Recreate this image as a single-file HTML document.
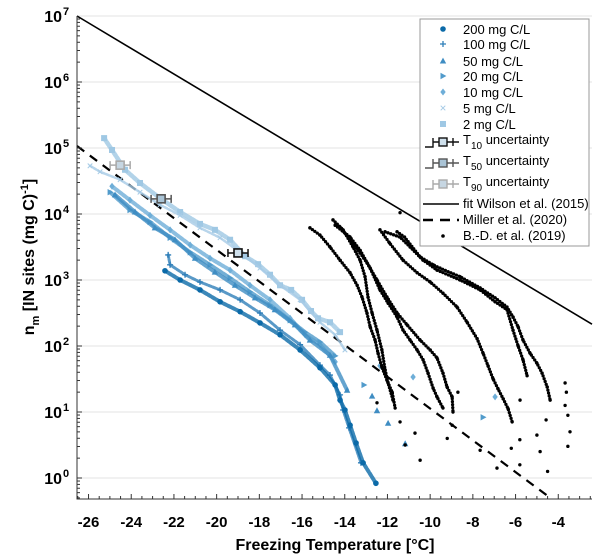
<!DOCTYPE html>
<html><head><meta charset="utf-8"><style>
html,body{margin:0;padding:0;background:#fff}
svg{display:block;font-family:"Liberation Sans",Arial,sans-serif}
</style></head><body>
<svg id="chart" width="600" height="558" viewBox="0 0 600 558" xmlns="http://www.w3.org/2000/svg">
<g id="grid"></g>
<g id="lines"></g>
<g id="data"></g>
<g id="axes"></g>
<text x="335" y="550" text-anchor="middle" font-size="16" font-weight="bold">Freezing Temperature [°C]</text>
<text transform="translate(34,257) rotate(-90)" text-anchor="middle" font-size="16" font-weight="bold">n<tspan font-size="11" dy="5">m</tspan><tspan dy="-5"> [IN sites (mg C)</tspan><tspan font-size="11" dy="-6">-1</tspan><tspan dy="6">]</tspan></text>
<g id="legend"></g>
</svg>
<script>
// ---- data ----
const xTicks = [-26,-24,-22,-20,-18,-16,-14,-12,-10,-8,-6,-4];
const yTicks = [0,1,2,3,4,5,6,7];
const seriesNames = ["200 mg C/L","100 mg C/L","50 mg C/L","20 mg C/L","10 mg C/L","5 mg C/L","2 mg C/L"];
// values: [temperature °C, log10 n_m]
const s200 = [[-22.42,3.14],[-21.71,3.00],[-20.78,2.85],[-19.84,2.67],[-18.90,2.52],[-17.97,2.35],[-17.03,2.17],[-16.09,1.94],[-15.16,1.67],[-14.45,1.41],[-14.22,1.18],[-13.99,1.03],[-13.75,0.80],[-13.47,0.53],[-13.14,0.23],[-12.54,-0.08]];
const s100 = [[-22.27,3.38],[-22.18,3.23],[-21.48,3.08],[-20.78,2.97],[-19.84,2.85],[-18.90,2.70],[-17.97,2.50],[-17.03,2.24],[-16.09,2.02],[-15.16,1.71],[-14.69,1.56],[-14.22,1.26],[-14.08,1.03],[-13.80,0.76],[-13.24,0.23]];
const s50 = [[-24.76,4.29],[-23.82,4.03],[-22.89,3.79],[-21.95,3.61],[-21.01,3.33],[-20.08,3.12],[-19.14,2.92],[-18.20,2.73],[-17.27,2.55],[-16.33,2.32],[-15.63,2.09],[-14.69,1.86],[-13.89,1.33]];
const s50out = [[-12.72,1.24],[-12.49,1.02],[-11.97,0.83],[-11.17,0.52]];
const s20 = [[-24.99,4.33],[-24.06,4.06],[-23.12,3.88],[-22.18,3.64],[-21.24,3.42],[-20.31,3.23],[-19.37,3.03],[-18.44,2.82],[-17.50,2.62],[-16.56,2.39],[-15.86,2.21],[-15.16,2.06],[-14.45,1.85]];
const s20out = [[-13.10,1.41],[-7.52,0.92]];
const s10 = [[-24.90,4.42],[-24.06,4.21],[-23.12,3.98],[-22.18,3.76],[-21.24,3.53],[-20.31,3.33],[-19.37,3.15],[-18.44,2.92],[-17.50,2.70],[-16.56,2.42],[-15.86,2.17],[-15.16,2.02],[-14.45,1.76]];
const s10out = [[-12.35,1.70],[-10.80,1.53],[-6.96,1.23]];
const s5 = [[-25.93,4.73],[-25.46,4.64],[-24.52,4.52],[-23.59,4.33],[-22.65,4.14],[-21.71,3.98],[-20.78,3.79],[-19.84,3.64],[-18.90,3.42],[-17.97,3.18],[-17.03,2.92],[-16.09,2.70],[-15.16,2.36],[-14.45,2.17],[-13.99,1.94]];
const s2 = [[-25.27,5.15],[-24.90,4.97],[-24.29,4.67],[-23.59,4.47],[-22.65,4.24],[-21.71,4.03],[-20.78,3.85],[-20.08,3.76],[-19.37,3.61],[-18.67,3.36],[-18.06,3.24],[-17.50,3.08],[-17.03,2.92],[-16.51,2.85],[-16.00,2.70],[-15.58,2.53],[-15.25,2.42],[-14.69,2.36],[-14.22,2.21]];
const bdA = [[-15.63,3.79],[-15.16,3.68],[-14.69,3.50],[-14.22,3.30],[-13.75,3.11],[-13.42,2.92],[-13.19,2.74],[-12.96,2.50],[-12.81,2.29],[-12.58,2.09],[-12.44,1.89],[-12.26,1.68],[-12.02,1.48],[-11.78,1.30],[-11.64,1.06]];
const bdB = [[-14.55,3.91],[-14.08,3.76],[-13.61,3.50],[-13.28,3.30],[-13.05,3.05],[-12.91,2.74],[-12.72,2.50],[-12.49,2.24],[-12.26,1.94],[-12.11,1.64],[-11.97,1.44],[-11.74,1.18]];
const bdC = [[-14.45,3.83],[-13.75,3.65],[-13.28,3.45],[-12.81,3.18],[-12.35,2.85],[-11.97,2.65],[-11.55,2.44],[-11.27,2.24],[-10.94,2.09],[-10.61,1.94],[-10.33,1.79],[-10.10,1.59],[-9.86,1.36],[-9.68,1.23],[-9.40,1.06]];
const bdD = [[-14.22,3.80],[-13.61,3.56],[-12.96,3.26],[-12.49,3.00],[-12.02,2.74],[-11.55,2.50],[-11.08,2.32],[-10.47,2.09],[-10.00,1.94],[-9.68,1.82],[-9.40,1.59],[-9.21,1.38],[-8.97,1.23],[-8.93,1.00]];
const bdE = [[-11.55,3.73],[-11.20,3.65],[-10.47,3.35],[-9.86,3.23],[-9.54,3.18],[-8.60,3.05],[-7.66,2.88],[-6.96,2.73],[-6.40,2.59],[-6.12,2.44],[-5.88,2.29],[-5.65,2.09],[-5.32,1.89],[-5.00,1.74],[-4.76,1.59],[-4.52,1.38],[-4.38,1.18]];
const bdF = [[-12.11,3.73],[-11.41,3.65],[-10.94,3.50],[-10.33,3.30],[-9.68,3.15],[-8.60,3.00],[-7.66,2.85],[-6.96,2.67],[-6.40,2.55],[-6.12,2.24],[-5.88,2.00],[-5.65,1.79],[-5.46,1.55]];
const bdG = [[-12.35,3.76],[-11.90,3.56],[-11.27,3.30],[-10.61,3.11],[-10.00,2.97],[-9.40,2.80],[-8.74,2.59],[-8.27,2.36],[-7.80,2.11],[-7.52,1.89],[-7.29,1.70],[-7.05,1.50],[-6.82,1.35],[-6.58,1.20],[-6.35,1.05],[-6.16,0.85]];
const bdScatter = [[-11.41,4.02],[-12.49,1.14],[-11.41,0.85],[-11.17,0.50],[-10.47,0.27],[-10.71,0.68],[-5.79,1.18],[-4.57,0.88],[-3.68,1.44],[-3.62,1.30],[-3.68,1.10],[-3.55,0.95],[-3.45,0.70],[-3.55,0.48],[-5.00,0.65],[-4.85,0.40],[-4.50,0.10],[-5.80,0.58],[-5.80,0.20],[-6.87,0.15],[-7.66,0.42],[-8.97,0.80],[-9.20,0.60],[-6.20,0.45],[-8.70,1.30]];
const uncT = [-19.0,-22.6,-24.52];
const uncLog = [3.41,4.23,4.74];
const uncErr = [0.47,0.47,0.47];
const wilsonStart = [-26.54,7.0]; const wilsonSlope = -0.1936;
const millerStart = [-26.54,5.03]; const millerSlope = -0.2405;

// ---- scales ----
const X0=77,X1=592,Y0=16,Y1=499;
const xmin=-26.54,xmax=-2.42,ymin=-0.318,ymax=7;
const sx=t=>X0+(t-xmin)/(xmax-xmin)*(X1-X0);
const sy=l=>Y0+(ymax-l)/(ymax-ymin)*(Y1-Y0);
const NS="http://www.w3.org/2000/svg";
function mk(tag,attrs,parent){const e=document.createElementNS(NS,tag);for(const k in attrs)e.setAttribute(k,attrs[k]);parent.appendChild(e);return e;}
const grid=document.getElementById('grid'),lines=document.getElementById('lines'),dataG=document.getElementById('data'),axes=document.getElementById('axes'),legend=document.getElementById('legend');

yTicks.forEach(v=>{const g=mk('line',{x1:X0,x2:X1,y1:sy(v),y2:sy(v),stroke:'#e3e3e3','stroke-width':1},grid);

});

const ax=mk('path',{d:`M${X0},${Y0}V${Y1}H${X1}`,fill:'none',stroke:'#333','stroke-width':1},axes);


for(let t=-26.5;t<=-2.5;t+=0.5){const major=xTicks.includes(t);mk('line',{x1:sx(t),x2:sx(t),y1:Y1,y2:Y1-(major?5:3),stroke:'#333'},axes);}
xTicks.forEach(t=>{const e=mk('text',{x:sx(t),y:527,'text-anchor':'middle','font-size':15,'font-weight':'bold'},axes);e.textContent=t;

});
for(let d=-1;d<=6;d++){for(let m=1;m<=9;m++){const l=d+Math.log10(m);if(l<ymin||l>ymax)continue;mk('line',{x1:X0,x2:X0+(m===1?5:3),y1:sy(l),y2:sy(l),stroke:'#333'},axes);}}
yTicks.forEach(v=>{const e=mk('text',{x:62,y:sy(v)+6,'text-anchor':'end','font-size':16,'font-weight':'bold'},axes);e.textContent='10';


const s=mk('text',{x:63,y:sy(v)-1,'font-size':11,'font-weight':'bold'},axes);s.textContent=v;});

const wl=mk('line',{x1:sx(wilsonStart[0]),y1:sy(wilsonStart[1]),x2:sx(xmax),y2:sy(wilsonStart[1]+wilsonSlope*(xmax-wilsonStart[0])),stroke:'#000','stroke-width':1.6},lines);


const tEnd=millerStart[0]+(ymin-millerStart[1])/millerSlope;
const ml=mk('line',{x1:sx(millerStart[0]),y1:sy(millerStart[1]),x2:sx(tEnd),y2:sy(ymin),stroke:'#000','stroke-width':2.2,'stroke-dasharray':'9 7'},lines);



function marker(type,cx,cy,col,parent){
 if(type==='circle')return mk('circle',{cx,cy,r:2.8,fill:col},parent);
 if(type==='plus')return mk('path',{d:`M${cx-3},${cy}h6M${cx},${cy-3}v6`,stroke:col,'stroke-width':1.3},parent);
 if(type==='tri')return mk('path',{d:`M${cx},${cy-3.4}L${cx+3.2},${cy+2.5}L${cx-3.2},${cy+2.5}Z`,fill:col},parent);
 if(type==='rtri')return mk('path',{d:`M${cx+3.4},${cy}L${cx-2.5},${cy-3.2}L${cx-2.5},${cy+3.2}Z`,fill:col},parent);
 if(type==='diamond')return mk('path',{d:`M${cx},${cy-3.5}L${cx+2.7},${cy}L${cx},${cy+3.5}L${cx-2.7},${cy}Z`,fill:col},parent);
 if(type==='x')return mk('path',{d:`M${cx-2.3},${cy-2.3}l4.6,4.6M${cx-2.3},${cy+2.3}l4.6,-4.6`,stroke:col,'stroke-width':1},parent);
 if(type==='square')return mk('rect',{x:cx-3,y:cy-3,width:6,height:6,fill:col},parent);
 if(type==='dot')return mk('circle',{cx,cy,r:1.7,fill:col},parent);
}
const colors=['#0b6aa8','#2f7fb9','#3f8dc3','#519bcb','#6eaed8','#a6cbe6','#9fc8e4'];
const types=['circle','plus','tri','rtri','diamond','x','square'];
function series(arr,type,col,name,band,extra){
 const g=mk('g',{},dataG);
 
 
 if(band){mk('polyline',{points:arr.map(p=>sx(p[0])+','+sy(p[1])).join(' '),fill:'none',stroke:col,'stroke-width':band,'stroke-linejoin':'round','stroke-linecap':'round','stroke-dasharray':'3 1.5',opacity:0.8},g);}
 arr.forEach(p=>marker(type,sx(p[0]),sy(p[1]),col,g));
 (extra||[]).forEach(p=>marker(type,sx(p[0]),sy(p[1]),col,g));
}
series(s2,'square',colors[6],'series-2mg',4.5);
series(s5,'x',colors[5],'series-5mg',2.5);
series(s10,'diamond',colors[4],'series-10mg',4);
series(s10out,'diamond',colors[4],'series-10mg-outliers',0);
series(s20,'rtri',colors[3],'series-20mg',4,s20out.length?null:null);
series(s20out,'rtri',colors[3],'series-20mg-outliers',0);
series(s50,'tri',colors[2],'series-50mg',4);
series(s50out,'tri',colors[2],'series-50mg-outliers',0);
series(s100,'plus',colors[1],'series-100mg',3);
series(s200,'circle',colors[0],'series-200mg',4);
[bdA,bdB,bdC,bdD,bdE,bdF,bdG].forEach((c,i)=>{
 const g=mk('g',{},dataG);
 
 
 mk('polyline',{points:c.map(p=>sx(p[0])+','+sy(p[1])).join(' '),fill:'none',stroke:'#000','stroke-width':3.3,'stroke-dasharray':'0 3','stroke-linecap':'round'},g);
 c.forEach(p=>marker('dot',sx(p[0]),sy(p[1]),'#000',g));
});
const sc=mk('g',{},dataG);


bdScatter.forEach(p=>marker('dot',sx(p[0]),sy(p[1]),'#000',sc));
const uncCols=['#111','#555','#aaa'];
const uncFill=['#cfe0ec','#aac4d6','#c6d6e2'];
uncT.forEach((t,i)=>{
 const g=mk('g',{},dataG);
 
 
 const x=sx(t),y=sy(uncLog[i]),xl=sx(t-uncErr[i]),xr=sx(t+uncErr[i]);
 mk('path',{d:`M${xl},${y}H${xr}M${xl},${y-4}v8M${xr},${y-4}v8`,stroke:uncCols[i],'stroke-width':1.5,fill:'none'},g);
 mk('rect',{x:x-4,y:y-4,width:8,height:8,fill:uncFill[i],stroke:uncCols[i],'stroke-width':1.6},g);
});

const lb=mk('rect',{x:420,y:19,width:169,height:227,fill:'#fff',stroke:'#999','stroke-width':1},legend);


const rowY=[29,44,61,76,92,108,124];
seriesNames.forEach((n,i)=>{
 marker(types[i],443,rowY[i],colors[i],legend);
 const t=mk('text',{x:463,y:rowY[i]+5,'font-size':13},legend);t.textContent=n;
 
 
});
const uY=[142,163,184],uLab=['10','50','90'];
uY.forEach((y,i)=>{
 const c=uncCols[i];
 mk('path',{d:`M425,${y+5}H433V${y}H459M433,${y-4}v8M453,${y-4}v8`,stroke:c,'stroke-width':1.4,fill:'none'},legend);
 mk('rect',{x:439,y:y-4,width:8,height:8,fill:uncFill[i],stroke:c,'stroke-width':1.4},legend);
 const t=mk('text',{x:463,y:y+2,'font-size':13},legend);
 
 
 t.innerHTML=`T<tspan font-size="10" dy="5">${uLab[i]}</tspan><tspan dy="-5"> uncertainty</tspan>`;
});
mk('line',{x1:423,x2:459,y1:204,y2:204,stroke:'#000','stroke-width':1.6},legend);
mk('line',{x1:423,x2:459,y1:220,y2:220,stroke:'#000','stroke-width':2.4,'stroke-dasharray':'10 7'},legend);
mk('circle',{cx:443,cy:236,r:1.8,fill:'#000'},legend);
[['fit Wilson et al. (2015)',208],['Miller et al. (2020)',224],['B.-D. et al. (2019)',240]].forEach(a=>{
 const t=mk('text',{x:463,y:a[1],'font-size':13},legend);t.textContent=a[0];
 
 
});
</script>
</body></html>
